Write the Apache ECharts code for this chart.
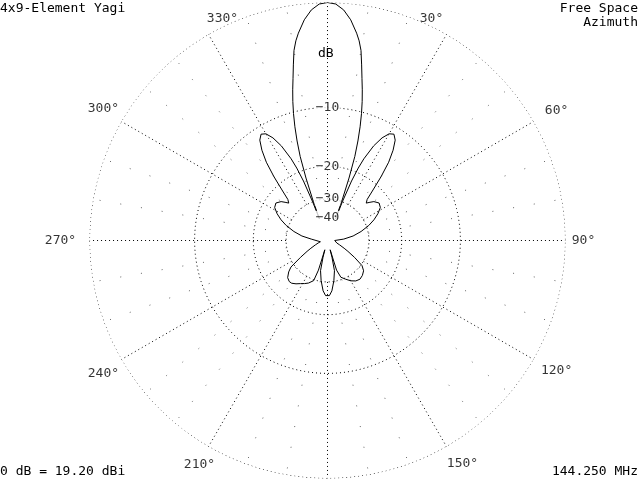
<!DOCTYPE html>
<html>
<head>
<meta charset="utf-8">
<script src="https://cdn.jsdelivr.net/npm/echarts@6/dist/echarts.min.js"></script>
<style>
  html, body { margin: 0; padding: 0; background: #fff; }
  #chart { width: 640px; height: 480px; }
</style>
</head>
<body>
<div id="chart"></div>
<script>
// azimuth pattern, degrees clockwise from the boresight, and gain in dB relative to max
const azimuths = [
  0, 2, 4, 6, 8, 9, 10, 11, 12, 13, 14, 15, 16, 17, 18, 19, 20, 20.5, 21, 22, 23, 24,
  26, 28, 30, 32, 34, 36, 38, 40, 42, 44, 46, 48, 50, 54, 58, 62, 66, 70,
  75, 80, 85, 90, 95, 100, 105, 110, 115, 118, 122, 126, 130, 135, 140, 145,
  150, 155, 160, 163, 164, 165, 167, 171, 175, 178, 180,
  182, 185, 189, 193, 195, 196, 197, 199, 204, 208, 212, 216, 220, 223, 227,
  231, 234, 238, 242, 245, 250, 255, 260, 265, 270, 275, 280, 285, 290, 294,
  298, 302, 306, 310, 312, 314, 316, 318, 320, 322, 324, 326, 328, 330, 332,
  334, 336, 337, 338, 339, 339.5, 340, 341, 342, 343, 344, 345, 346, 347, 348,
  349, 350, 351, 352, 354, 356, 358, 360
];
const gainDb = [
  0, -0.1, -0.5, -1.2, -2.2, -2.8, -3.6, -4.9, -6.2, -7.4, -8.7, -10.2, -12, -14.2, -17, -22, -30, -40, -30, -22.5, -19, -16.8,
  -14, -12.3, -11.3, -11, -11.6, -13, -15, -18, -21.5, -24.5, -25.5, -24.5, -23.5, -22.6, -23, -24.5, -26.5, -29,
  -33, -38, -46, -60, -62, -60, -55, -50, -44, -40, -34.5, -29.5, -27.8, -27, -26.6, -27,
  -28, -29.5, -31, -35, -55, -45, -35, -30.3, -26.6, -25.1, -24.8,
  -25.1, -26.6, -30.3, -35, -45, -55, -35, -29.6, -28, -27.2, -26.5, -25.6, -24.9, -24.8, -25.3,
  -26.8, -28.5, -34.5, -40, -44, -50, -55, -60, -62, -60, -46, -38, -33, -29, -26.5,
  -24.5, -23, -22.6, -23.5, -24.5, -25.5, -24.5, -21.5, -18, -15, -13, -11.6, -11, -11.3, -12.3,
  -14, -16.8, -19, -22.5, -30, -40, -30, -22, -17, -14.2, -12, -10.2, -8.7, -7.4, -6.2,
  -4.9, -3.6, -2.8, -2.2, -1.2, -0.5, -0.1, 0
];

const ringDb = [0, -10, -20, -30];
const ringLabelDb = [-10, -20, -30, -40];
const angleTicks = [30, 60, 90, 120, 150, 210, 240, 270, 300, 330];
const spokeAngles = [0, 30, 60, 90, 120, 150, 180, 210, 240, 270, 300, 330];
const minorAngles = [10, 20, 40, 50, 70, 80, 100, 110, 130, 140, 160, 170,
  190, 200, 220, 230, 250, 260, 280, 290, 310, 320, 340, 350];

// ARRL log scale: radius shrinks by 0.89 every 2 dB
const arrl = db => Math.pow(0.89, -db / 2);
const innerR = arrl(-30);

const FONT = 'DejaVu Sans Mono';
const chart = echarts.init(document.getElementById('chart'));

// where each azimuth label sits relative to the end of its spoke
const labelOffset = {
  30: [-15, -16], 60: [23, -11], 90: [18, 0], 120: [23, 11], 150: [16, 17],
  210: [-9, 18], 240: [-18, 14], 270: [-29, 0], 300: [-18, -13], 330: [14, -16]
};

const dotted = { color: '#000', width: 1, type: [1, 3] };
const series = [];

// rings
ringDb.forEach(db => {
  const pts = [];
  for (let a = 0; a <= 360; a += 2) pts.push([arrl(db), a]);
  series.push({
    type: 'line', coordinateSystem: 'polar', data: pts, symbol: 'none',
    silent: true, lineStyle: dotted, z: 1
  });
});

// spokes every 30 deg, starting at the -30 dB ring
spokeAngles.forEach(a => {
  series.push({
    type: 'line', coordinateSystem: 'polar', data: [[innerR, a], [1, a]],
    symbol: 'none', silent: true, lineStyle: dotted, z: 1
  });
});

// sparse 10 deg spokes
minorAngles.forEach(a => {
  series.push({
    type: 'line', coordinateSystem: 'polar', data: [[innerR, a], [1, a]],
    symbol: 'none', silent: true,
    lineStyle: { color: '#666', width: 1, type: [1, 20] }, z: 1
  });
});

// the pattern itself
series.push({
  type: 'line', coordinateSystem: 'polar', symbol: 'none', silent: true,
  data: azimuths.map((a, i) => [arrl(gainDb[i]), a]),
  lineStyle: { color: '#000', width: 1 }, z: 3
});

// azimuth labels
series.push({
  type: 'scatter', coordinateSystem: 'polar', symbolSize: 0, silent: true, z: 4,
  data: angleTicks.map(a => ({
    value: [1, a],
    label: {
      show: true, position: labelOffset[a], align: 'center', verticalAlign: 'middle',
      formatter: a + '°', fontFamily: FONT, fontSize: 13, color: '#000'
    }
  }))
});

// dB ring labels on the 0 deg line
series.push({
  type: 'scatter', coordinateSystem: 'polar', symbolSize: 0, silent: true, z: 4,
  data: ringLabelDb.map(db => ({
    value: [arrl(db), 0],
    label: {
      show: true, position: [0, 0], align: 'center', verticalAlign: 'middle',
      formatter: '\u2212' + Math.abs(db), fontFamily: FONT, fontSize: 13, color: '#000',
      backgroundColor: '#fff', padding: [0, 1]
    }
  }))
});

const txt = (extra, text) => Object.assign({
  type: 'text', silent: true,
  style: { text: text, font: '13px "' + FONT + '"', fill: '#000' }
}, extra);

chart.setOption({
  backgroundColor: '#fff',
  animation: false,
  polar: { center: [327.5, 240.5], radius: 238 },
  angleAxis: {
    type: 'value', min: 0, max: 360, interval: 30, startAngle: 90, clockwise: true,
    axisLine: { show: false }, axisTick: { show: false },
    axisLabel: { show: false }, splitLine: { show: false }
  },
  radiusAxis: {
    type: 'value', min: 0, max: 1,
    axisLine: { show: false }, axisTick: { show: false },
    axisLabel: { show: false }, splitLine: { show: false }
  },
  graphic: [
    txt({ left: 0, top: 2 }, '4x9-Element Yagi'),
    txt({ right: 2, top: 2 }, 'Free Space'),
    txt({ right: 2, top: 16 }, 'Azimuth'),
    txt({ left: 0, bottom: 2 }, '0 dB = 19.20 dBi'),
    txt({ right: 2, bottom: 2 }, '144.250 MHz'),
    txt({ left: 318, top: 47 }, 'dB')
  ],
  series: series
});
</script>
</body>
</html>
